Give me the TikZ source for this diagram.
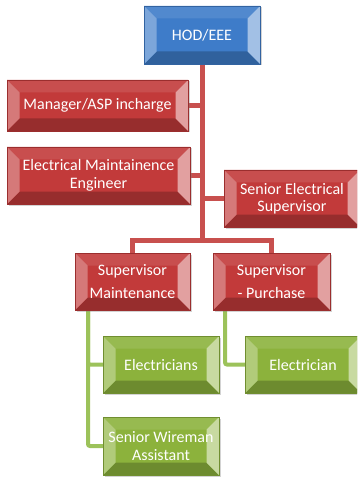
\documentclass[tikz,border=0pt]{standalone}
\usepackage{fontspec}
\setmainfont{Carlito}
\usetikzlibrary{shadows,backgrounds,calc}
\definecolor{cblue}{HTML}{3E7CC9}
\definecolor{cred}{HTML}{C23A3A}
\definecolor{cgreen}{HTML}{8CB23C}
\definecolor{lred}{HTML}{C8504E}
\definecolor{lgreen}{HTML}{9CC25A}
\newlength{\bvd}\setlength{\bvd}{12.5pt}
\tikzset{
  bevel/.style={path picture={
    \coordinate (bSW) at (path picture bounding box.south west);
    \coordinate (bNE) at (path picture bounding box.north east);
    \coordinate (bNW) at (bSW|-bNE);
    \coordinate (bSE) at (bNE|-bSW);
    \fill[#1!90!white] (bNW) -- (bNE) -- ([shift={(-\bvd,-\bvd)}]bNE) -- ([shift={(\bvd,-\bvd)}]bNW) -- cycle;
    \fill[#1!78!black] (bSW) -- (bSE) -- ([shift={(-\bvd,\bvd)}]bSE) -- ([shift={(\bvd,\bvd)}]bSW) -- cycle;
    \fill[#1!68!white] (bSW) -- (bNW) -- ([shift={(\bvd,-\bvd)}]bNW) -- ([shift={(\bvd,\bvd)}]bSW) -- cycle;
    \fill[#1!48!white] (bSE) -- (bNE) -- ([shift={(-\bvd,-\bvd)}]bNE) -- ([shift={(-\bvd,\bvd)}]bSE) -- cycle;
  }},
  box/.style={fill=#1, bevel=#1, draw=#1!80!black, line width=0.4pt,
    text=white, align=center, inner sep=0pt,
    font=\fontsize{16}{17.5}\selectfont,
    drop shadow={shadow xshift=1.5pt, shadow yshift=-1.5pt, opacity=0.35}},
  redline/.style={draw=lred, line width=5pt},
  greenline/.style={draw=lgreen, line width=4pt, rounded corners=2pt},
}
\begin{document}
\begin{tikzpicture}[x=1pt,y=-1pt]
\useasboundingbox (0,0) rectangle (357,478);
\clip (0,0) rectangle (357,478);
\node[box=cblue, minimum width=116pt, minimum height=58pt] (hod) at (202,35) {HOD/EEE};
\node[box=cred, minimum width=181pt, minimum height=51pt] (mgr) at (97.5,105.5) {Manager/ASP incharge};
\node[box=cred, minimum width=183pt, minimum height=57pt] (eme) at (98.5,175.5) {Electrical Maintainence\\Engineer};
\node[box=cred, minimum width=136pt, minimum height=57pt] (ses) at (292,198.5) {Senior Electrical\\Supervisor};
\node[box=cred, minimum width=115pt, minimum height=57pt] (sm) at (132.5,281.5) {Supervisor\\[6pt]Maintenance};
\node[box=cred, minimum width=117pt, minimum height=57pt] (sp) at (271.5,281.5) {Supervisor\\[6pt]- Purchase};
\node[box=cgreen, minimum width=116pt, minimum height=57pt] (el) at (161,364.5) {Electricians};
\node[box=cgreen, minimum width=116pt, minimum height=58pt] (swa) at (161,446) {Senior Wireman\\Assistant};
\node[box=cgreen, minimum width=116pt, minimum height=57pt] (ec) at (303,364.5) {Electrician};
\coordinate (bus) at (202,240);
\coordinate (gm) at (88,310);
\coordinate (gp) at (225,310);
\begin{pgfonlayer}{background}
\draw[redline] (hod.south) -- (bus);
\draw[redline] (bus) -| (sm.north);
\draw[redline] (bus) -| (sp.north);
\draw[redline] (mgr.east) -- (mgr.east -| bus);
\draw[redline] (eme.east) -- (eme.east -| bus);
\draw[redline] (ses.west) -- (ses.west -| bus);
\draw[greenline] (gm) |- (el.west);
\draw[greenline] (gm) |- (swa.west);
\draw[greenline] (gp) |- (ec.west);
\end{pgfonlayer}
\end{tikzpicture}
\end{document}
